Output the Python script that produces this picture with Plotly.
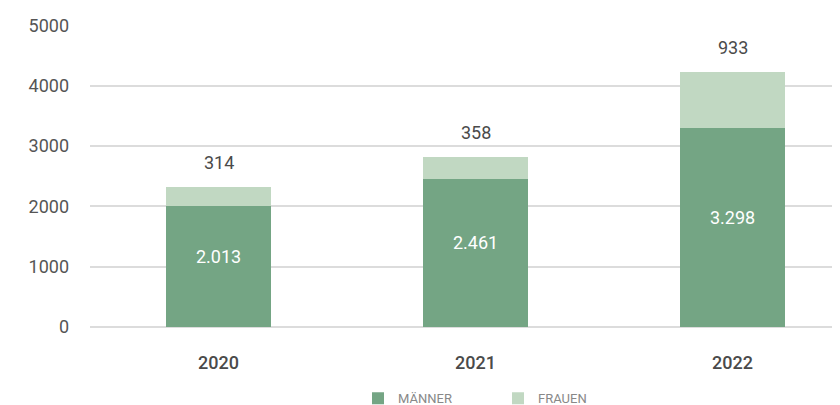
import plotly.graph_objects as go

years = ["2020", "2021", "2022"]
maenner = [2013, 2461, 3298]
frauen = [314, 358, 933]
y_ticks = [0, 1000, 2000, 3000, 4000, 5000]

dark = "#74a584"
light = "#c1d8c2"

def de(v):
    return f"{v:,}".replace(",", ".")

fig = go.Figure()
fig.add_trace(go.Bar(x=years, y=maenner, name="MÄNNER", marker=dict(color=dark, line=dict(width=0))))
fig.add_trace(go.Bar(x=years, y=frauen, name="FRAUEN", marker=dict(color=light, line=dict(width=0))))

for i, (m, f) in enumerate(zip(maenner, frauen)):
    fig.add_annotation(x=i, y=m / 2, xref="x", yref="y", text=de(m), showarrow=False, yshift=10,
                       font=dict(family="Roboto", size=18, color="#ffffff"))
    fig.add_annotation(x=i, y=m + f, xref="x", yref="y", text=de(f), showarrow=False,
                       yanchor="bottom", yshift=12,
                       font=dict(family="Roboto", size=18, color="#4a4a4a"))

# page body has an 8px margin: figure is shifted by 8px right and down
fig.update_layout(
    width=832, height=397,
    margin=dict(l=82, r=0, t=17, b=78, autoexpand=False),
    barmode="stack",
    bargap=0.59,
    plot_bgcolor="white", paper_bgcolor="white",
    showlegend=True,
    legend=dict(orientation="h", x=0.544, xanchor="center", y=-0.2365, yanchor="middle",
                traceorder="normal",
                font=dict(family="Roboto", size=13, color="#888888"),
                entrywidth=95, entrywidthmode="pixels", itemwidth=30),
    xaxis=dict(type="category", range=[-0.5, 2.418], showgrid=False, showline=False, zeroline=False,
               tickfont=dict(family="Roboto", size=18, color="#4a4a4a", weight=500),
               ticks="", ticklabelstandoff=23, automargin=False),
    yaxis=dict(range=[0, 5010], tickvals=y_ticks, showgrid=True, gridcolor="#dcdcdc", gridwidth=1.5,
               zeroline=True, zerolinecolor="#dcdcdc", zerolinewidth=1.5,
               tickfont=dict(family="Roboto", size=18, color="#555555"),
               ticks="", ticklabelstandoff=20, tickformat="d", automargin=False),
)

fig.write_html("out.html")
